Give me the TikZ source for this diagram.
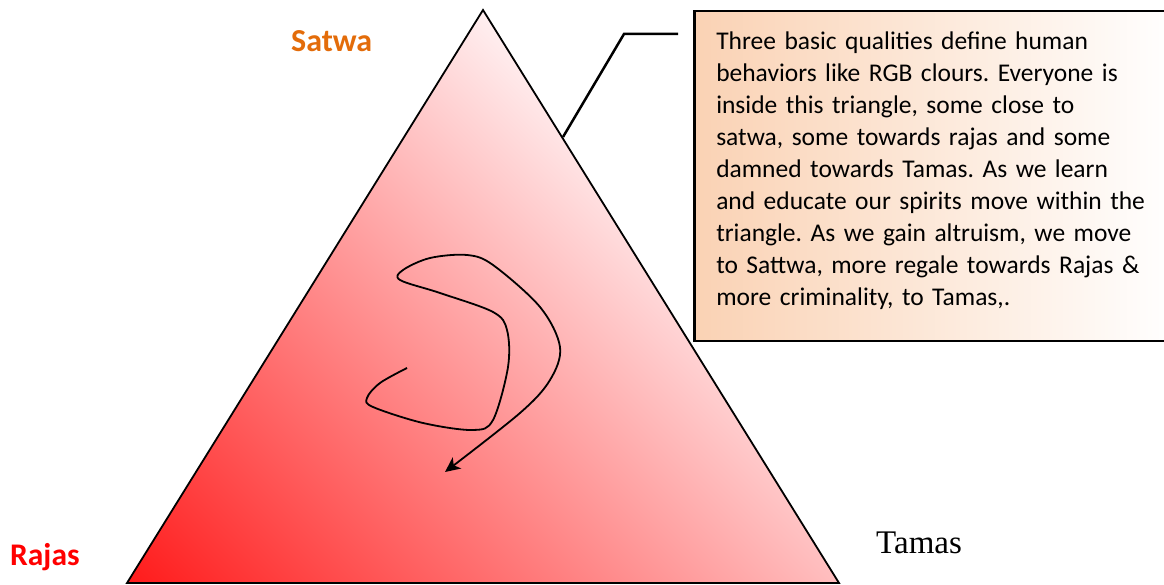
\documentclass[tikz,border=0pt]{standalone}
\usepackage{fontspec}
\setmainfont{Carlito}
\newfontfamily\tamasfont{Liberation Serif}
\usetikzlibrary{arrows.meta,positioning}
\definecolor{satwa}{HTML}{E36C0A}
\definecolor{rajas}{HTML}{FF0000}
\definecolor{peach}{HTML}{FAD2B4}
\definecolor{tint}{HTML}{FFF0F1}
\pgfdeclareverticalshading{rajasfade}{100bp}{color(0bp)=(rajas); color(8bp)=(rajas); color(66bp)=(tint); color(100bp)=(tint)}

\begin{document}
\begin{tikzpicture}[
    x=1pt,y=1pt,
    note/.style={draw,line width=2.5pt,left color=peach,right color=white,minimum width=480pt,minimum height=330pt,text width=436pt,inner xsep=22pt,align=left,anchor=north west,font=\fontsize{25.5}{32}\selectfont\frenchspacing},
    lbl/.style={anchor=base west,inner sep=0pt,font=\fontsize{32}{36}\selectfont\bfseries}
]
\useasboundingbox (0,0) rectangle (1164,584);

% Triangle
\coordinate (rj) at (127,1);
\coordinate (tm) at (839,1);
\coordinate (st) at (483,574);
\path[draw,line width=1.8pt,shading=rajasfade,shading angle=-45] (rj) -- (st) -- (tm) -- cycle;

% Labels
\node[lbl,text=satwa] (satwa) at (291,532) {Satwa};
\node[lbl,text=rajas,font=\fontsize{31.5}{36}\selectfont\bfseries] (rajas) at (10,19) {Rajas};
\node[anchor=base west,inner sep=0pt,font=\tamasfont\fontsize{33}{36}\selectfont] (tamas) at (876,31) {Tamas};

% Spirit path
\draw[line width=1.8pt,-{Stealth[length=15pt,width=14pt,inset=4pt]}] plot[smooth,tension=0.55] coordinates {
    (407,216) (380,201) (367,186) (373,177) (423,161) (473,154) (493,164)
    (508,217) (507,254) (493,272) (440,291) (400,304) (403,314) (430,326)
    (467,329) (493,319) (540,277) (560,237) (550,204) (520,171) (445,112)};

% Note
\node[note] (note) at (693,574) {Three basic qualities define human\\
behaviors like RGB clours. Everyone is\\
inside this triangle, some close to\\
satwa, some towards rajas and some\\
damned towards Tamas. As we learn\\
and educate our spirits move within the\\
triangle. As we gain altruism, we move\\
to Sattwa, more regale towards Rajas \&\\
more criminality, to Tamas,.\rule[-16pt]{0pt}{1pt}};
\coordinate (edge) at (563,447);
\coordinate (bend) at (624,550);
\coordinate (tail) at (678,550);
\draw[line width=2.5pt] (edge) -- (bend) -- (tail);
\end{tikzpicture}
\end{document}
